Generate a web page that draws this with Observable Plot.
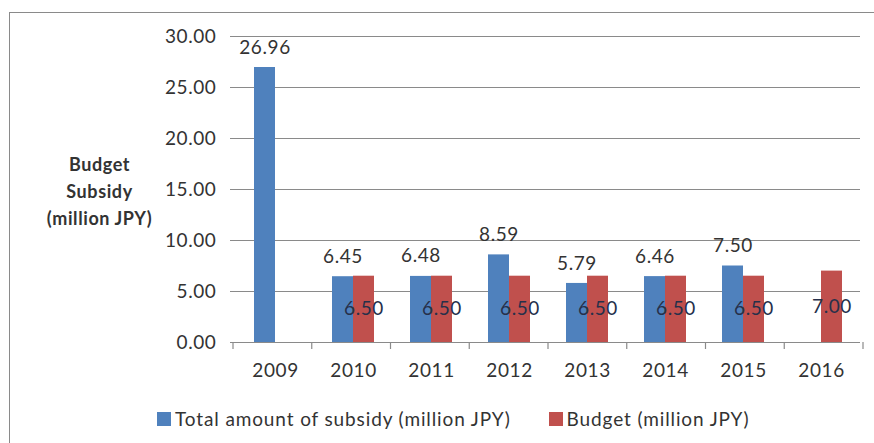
<!DOCTYPE html>
<html><head><meta charset="utf-8">
<script src="https://cdn.jsdelivr.net/npm/d3@7"></script>
<script src="https://cdn.jsdelivr.net/npm/@observablehq/plot@0.6"></script>
<style>
body{margin:0;background:#fff;font-family:Lato,"Open Sans",sans-serif;}
#wrap{position:relative;width:874px;height:443px;overflow:hidden;}
#frame{position:absolute;left:9px;top:12px;width:900px;height:460px;border:1px solid #8a8a8a;box-sizing:border-box;pointer-events:none}
#chart{position:absolute;left:0;top:0;}
#legend{position:absolute;left:157px;top:408px;display:flex;align-items:center;font-size:19px;letter-spacing:0.88px;color:#333;line-height:22px;}
.item{display:flex;align-items:center;}
.sw{width:14px;height:14px;display:inline-block;margin-right:4px}
</style></head><body>
<div id="wrap"><div id="frame"></div><div id="chart"></div><div id="legend"></div></div>
<script>
const years = ["2009", "2010", "2011", "2012", "2013", "2014", "2015", "2016"];
const subsidy = [26.96, 6.45, 6.48, 8.59, 5.79, 6.46, 7.50, null];
const budget = [null, 6.50, 6.50, 6.50, 6.50, 6.50, 6.50, 7.00];
const seriesNames = ["Total amount of subsidy (million JPY)", "Budget (million JPY)"];
const seriesColors = ["#4F81BD", "#C0504D"];
const yTicks = [0, 5, 10, 15, 20, 25, 30];
const yTitle = "Budget\nSubsidy\n(million JPY)";

const rows = [];
years.forEach((yr, i) => {
  if (subsidy[i] != null) rows.push({year: yr, series: seriesNames[0], value: subsidy[i]});
  if (budget[i] != null) rows.push({year: yr, series: seriesNames[1], value: budget[i]});
});

const grid = "#8a8a8a";
const plot = Plot.plot({
  width: 874, height: 392,
  marginLeft: 233, marginRight: 11, marginTop: 36, marginBottom: 50,
  style: {fontFamily: "Lato, 'Open Sans', sans-serif", fontSize: "19px", letterSpacing: "0.6px", color: "#333", background: "transparent"},
  fx: {domain: years, padding: 0, label: null},
  x: {domain: seriesNames, axis: null, paddingInner: 0, paddingOuter: 0.79},
  y: {domain: [0, 30], label: null},
  color: {domain: seriesNames, range: seriesColors},
  marks: [
    Plot.ruleY(yTicks.slice(1), {stroke: grid, strokeWidth: 1.2}),
    Plot.barY(rows, {fx: "year", x: "series", y: "value", fill: "series"}),
    Plot.ruleY([0], {stroke: grid, strokeWidth: 1.2}),
    Plot.axisY({ticks: yTicks, tickFormat: d => d.toFixed(2), tickSize: 6, tickPadding: 14, line: true, stroke: grid, fill: "#333", label: null}),
    Plot.axisFx({anchor: "bottom", tickSize: 0, tickPadding: 21, label: null, fill: "#333"}),
    Plot.text(rows.filter(d => d.series === seriesNames[0]), {fx: "year", x: "series", y: "value", text: d => d.value.toFixed(2), dy: -20, fill: "#333"}),
    Plot.text(rows.filter(d => d.series === seriesNames[1]), {fx: "year", x: "series", y: d => d.value / 2, text: d => d.value.toFixed(2), fill: "#26304a"}),
    Plot.text([{year: years[0], t: yTitle}], {fx: "year", text: "t", frameAnchor: "left", textAnchor: "middle", dx: -137, fontWeight: "bold", fontSize: 18, lineHeight: 1.5, fill: "#333"})
  ]
});

// category boundary ticks below the x axis, from the fx scale
const fxs = plot.scale("fx");
const ys = plot.scale("y");
const band = d3.scaleBand().domain(fxs.domain).range(fxs.range).padding(0);
const bounds = fxs.domain.map(d => band(d)).concat([band(fxs.domain[fxs.domain.length - 1]) + band.bandwidth()]);
const y0 = ys.apply(0);
const svg = d3.select(plot);
svg.append("g").attr("stroke", grid).attr("stroke-width", 1.2)
  .selectAll("line").data(bounds).join("line")
  .attr("x1", d => d).attr("x2", d => d).attr("y1", y0).attr("y2", y0 + 7);

document.getElementById("chart").appendChild(plot);

const legend = document.getElementById("legend");
seriesNames.forEach((s, i) => {
  const it = document.createElement("div");
  it.className = "item";
  it.style.marginRight = i === 0 ? "38px" : "0";
  const sw = document.createElement("span");
  sw.className = "sw";
  sw.style.background = seriesColors[i];
  it.appendChild(sw);
  it.appendChild(document.createTextNode(s));
  legend.appendChild(it);
});
</script>
</body></html>
